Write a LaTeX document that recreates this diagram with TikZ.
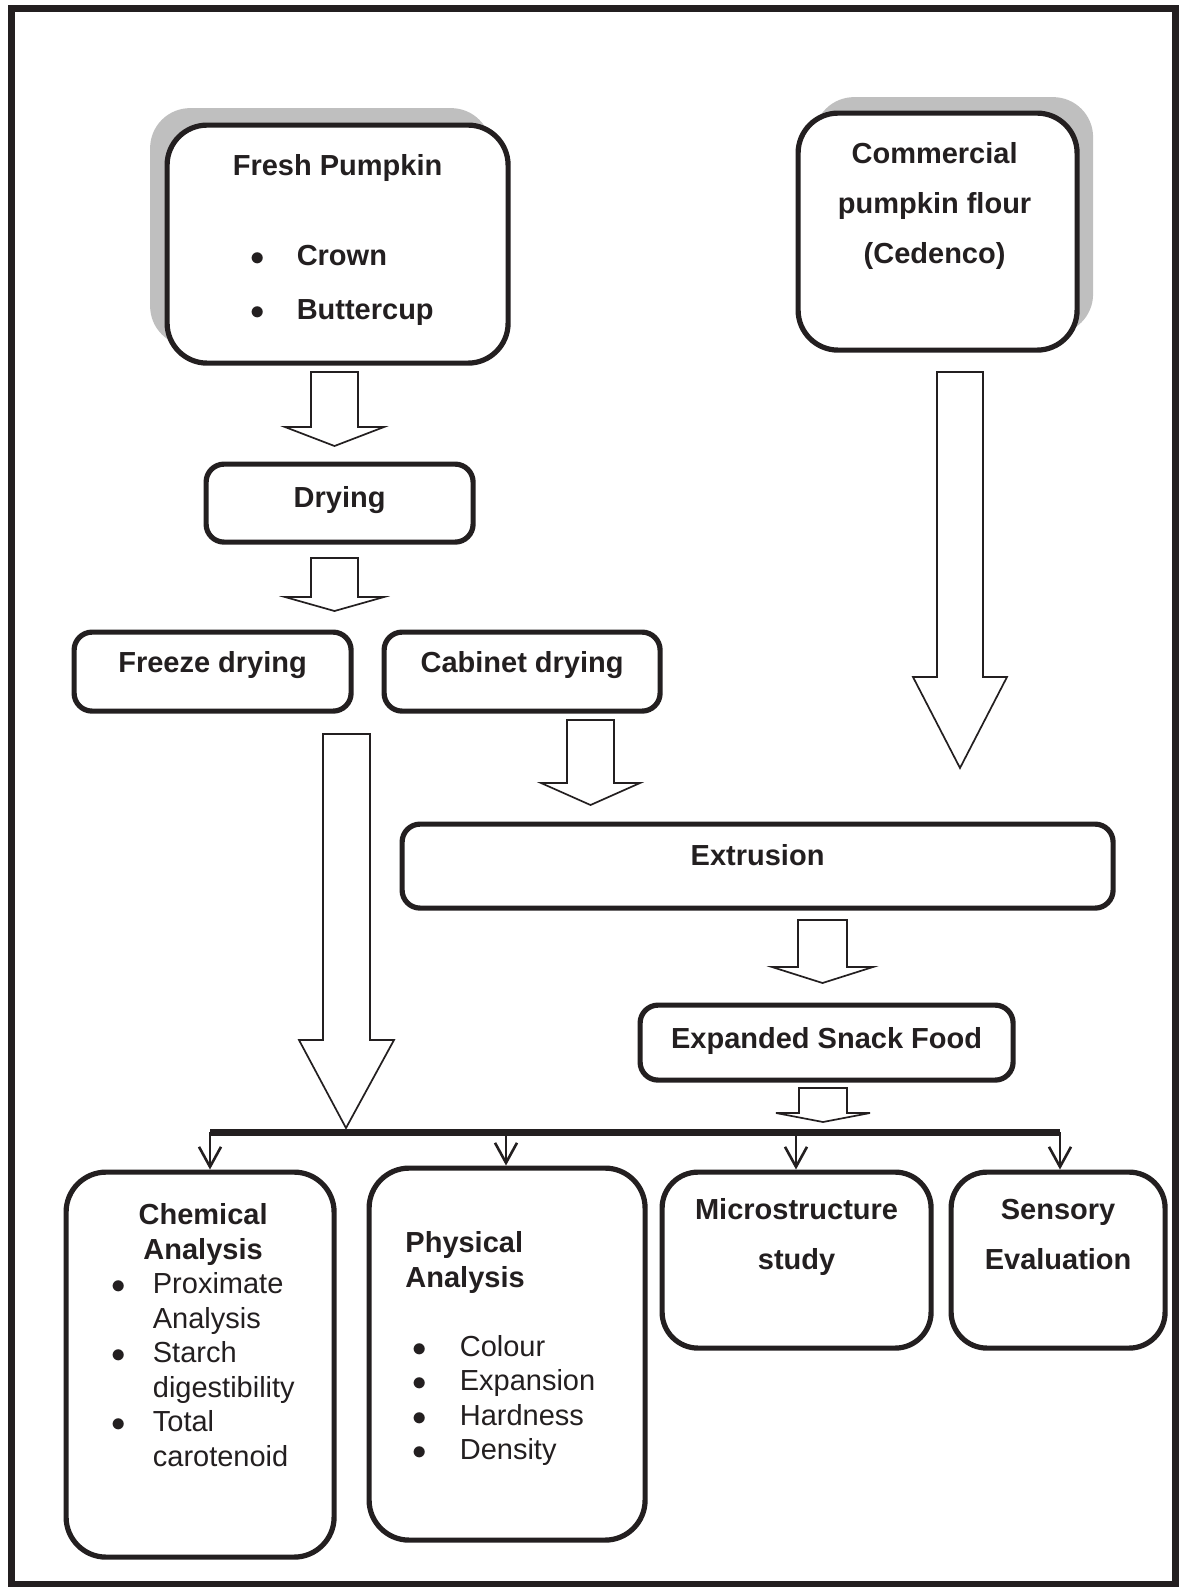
\documentclass[tikz,border=0pt]{standalone}
\usepackage{fontspec}
\setmainfont{Liberation Sans}
\usetikzlibrary{shadows,arrows.meta}
\definecolor{ink}{HTML}{231F20}

\begin{document}
\begin{tikzpicture}[x=0.5pt,y=-0.5pt,
every node/.style={anchor=north west,
inner sep=0pt,
text=ink,
font=\fontsize{14.5pt}{17.25pt}\selectfont
},
box/.style={%
draw=ink,
fill=white,
line width=2.6pt,
rounded corners=9pt
},
bigbox/.style={%
box,
rounded corners=20pt
},
blockarrow/.style={%
draw=ink,
fill=white,
line width=0.85pt
},
feed/.style={%
draw=ink,
line width=1.3pt,
-{Straight Barb[length=10pt,width=11pt,line width=1.3pt]}
}]
\useasboundingbox (0,0) rectangle (1186,1587);
\draw[draw=ink,line width=3.5pt] (11,8) rectangle (1175.5,1584);
% sources
\node[bigbox,minimum width=170.5pt,text height=25.25pt,text depth=93.75pt,
copy shadow={shadow xshift=-8.5pt,shadow yshift=8.5pt,draw=none,fill=gray!50}]
at(164.5,122.5)(fresh){\begin{tabular}[t]{@{\hspace{9pt}}c@{\hspace{15.75pt}}l@{}}
\multicolumn{2}{@{}c@{}}{\bfseries Fresh Pumpkin}\\[27.75pt]
$\bullet$ & \bfseries Crown\\[9.75pt]
$\bullet$ & \bfseries Buttercup
\end{tabular}};
\node[bigbox,minimum width=139.5pt,text height=25pt,text depth=93.5pt,
copy shadow={shadow xshift=8pt,shadow yshift=8pt,draw=none,fill=gray!50}]
at(795.5,110.5)(flour){\begin{tabular}[t]{@{}c@{\hspace{3pt}}}
\bfseries Commercial\\[7.75pt]
\bfseries pumpkin flour\\[7.75pt]
\bfseries (Cedenco)
\end{tabular}};
% processing
\node[box,minimum width=133.5pt,text height=21.75pt,text depth=17.25pt]at(203.5,461.5)(dry){\bfseries Drying};
\node[box,minimum width=138.5pt,text height=20.25pt,text depth=19.25pt]at(71.5,629.5)(freeze){\bfseries Freeze drying};
\node[box,minimum width=138pt,text height=20.25pt,text depth=19.25pt]at(381.5,629.5)(cabinet){\bfseries Cabinet drying};
\node[box,minimum width=355.5pt,text height=20.75pt,text depth=21.25pt]at(399.5,821.5)(extr){\bfseries Extrusion};
\node[box,minimum width=186.5pt,text height=21.75pt,text depth=15.75pt]at(637.5,1002.5)(snack){\bfseries Expanded Snack Food};
% analyses
\node[bigbox,minimum width=134pt,text height=26.25pt,text depth=166.25pt]
at(63.5,1169.5)(chem){\begin{tabular}[t]{@{\hspace{3pt}}c@{\hspace{13.5pt}}l@{}}
\multicolumn{2}{@{\hspace{3pt}}c@{}}{\bfseries Chemical}\\
\multicolumn{2}{@{\hspace{3pt}}c@{}}{\bfseries Analysis}\\
$\bullet$ & Proximate\\
 & Analysis\\
$\bullet$ & Starch\\
 & digestibility\\
$\bullet$ & Total\\
 & carotenoid
\end{tabular}};
\node[bigbox,minimum width=138pt,text height=42.25pt,text depth=143.75pt]
at(366.5,1165.5)(phys){\begin{tabular}[t]{@{\hspace{3.5pt}}c@{\hspace{16.5pt}}l@{\hspace{6.75pt}}}
\multicolumn{2}{@{}l@{}}{\bfseries Physical}\\
\multicolumn{2}{@{}l@{}}{\bfseries Analysis}\\[17.25pt]
$\bullet$ & Colour\\
$\bullet$ & Expansion\\
$\bullet$ & Hardness\\
$\bullet$ & Density
\end{tabular}};
\node[bigbox,rounded corners=18pt,minimum width=134.5pt,text height=23.75pt,text depth=64.25pt]
at(659.5,1169.5)(micro){\begin{tabular}[t]{@{}c@{}}
\bfseries Microstructure\\[7.75pt]
\bfseries study
\end{tabular}};
\node[bigbox,rounded corners=18pt,minimum width=107pt,text height=23.75pt,text depth=64.25pt]
at(948.5,1169.5)(sens){\begin{tabular}[t]{@{}c@{}}
\bfseries Sensory\\[7.75pt]
\bfseries Evaluation
\end{tabular}};
% block arrows
\draw[blockarrow] (311,372)--(358,372)--(358,427)--(384,427)--(334.5,446)--(285,427)--(311,427)--cycle;
\draw[blockarrow] (311,558)--(358,558)--(358,597)--(384,597)--(334.5,611)--(285,597)--(311,597)--cycle;
\draw[blockarrow] (323,734)--(370,734)--(370,1040)--(394,1040)--(346,1128)--(299,1040)--(323,1040)--cycle;
\draw[blockarrow] (937,372)--(983,372)--(983,677)--(1007,677)--(960,768)--(913,677)--(937,677)--cycle;
\draw[blockarrow] (567,720)--(614,720)--(614,783)--(640,783)--(590.5,805)--(541,783)--(567,783)--cycle;
\draw[blockarrow] (798,920)--(847,920)--(847,967)--(873,967)--(822.5,983)--(772,967)--(798,967)--cycle;
\draw[blockarrow] (799,1088)--(847,1088)--(847,1113)--(870,1113)--(823,1122)--(776,1113)--(799,1113)--cycle;
% distribution bar
\coordinate (t1) at (210,1132);
\coordinate (t2) at (506,1132);
\coordinate (t3) at (796,1132);
\coordinate (t4) at (1060,1132);
\draw[draw=ink,line width=3.5pt] (t1)--(t4);
\draw[feed] (t1)--(t1|-chem.north);
\draw[feed] (t2)--(t2|-phys.north);
\draw[feed] (t3)--(t3|-micro.north);
\draw[feed] (t4)--(t4|-sens.north);
\end{tikzpicture}
\end{document}
